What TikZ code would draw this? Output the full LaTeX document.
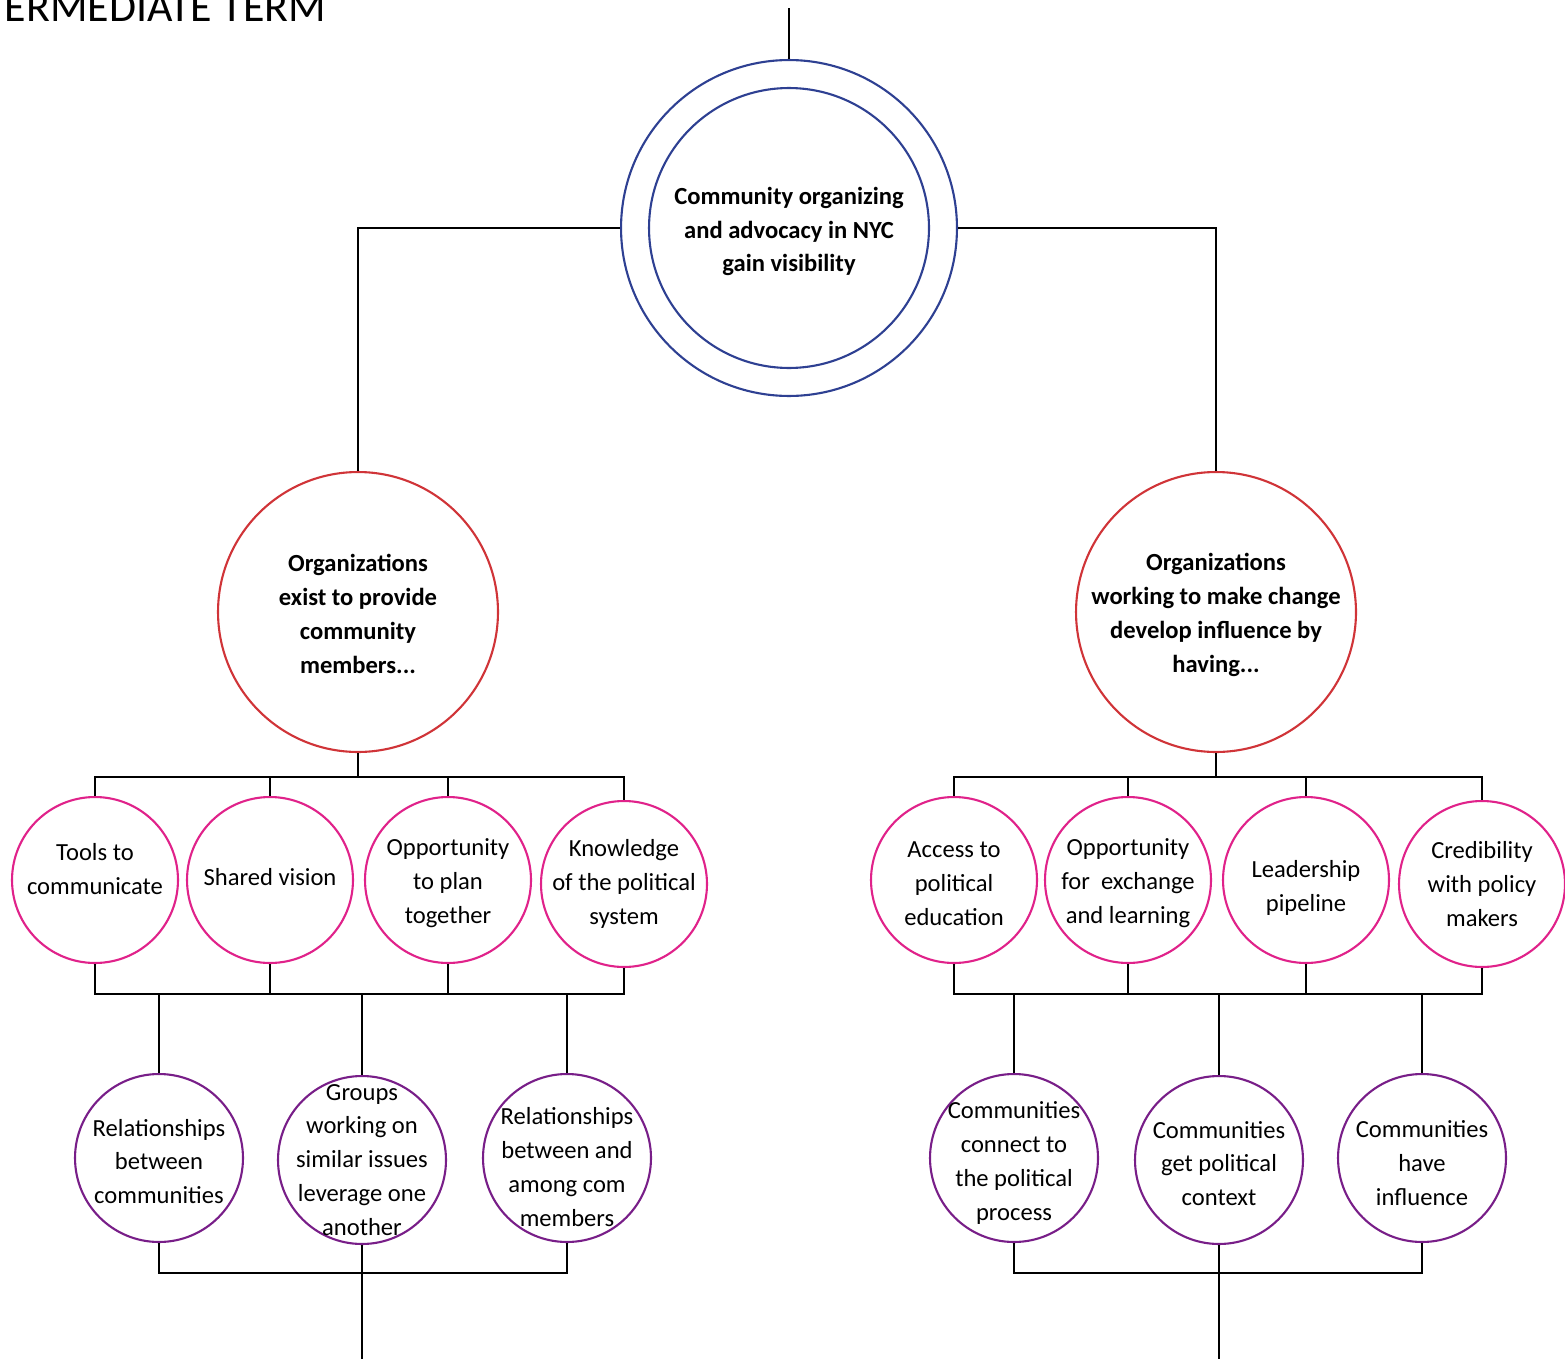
\documentclass[tikz,border=0pt]{standalone}
\usepackage{fontspec}
\setmainfont{Carlito}
\definecolor{topblue}{RGB}{46,64,146}
\definecolor{orgred}{RGB}{208,52,56}
\definecolor{needpink}{RGB}{224,34,138}
\definecolor{resultpurple}{RGB}{120,30,136}

\begin{document}
\begin{tikzpicture}[x=0.02cm,y=-0.02cm,line width=1.1pt,
    txt/.style={align=center,font=\fontsize{14}{19.3}\selectfont},
    boldtxt/.style={align=center,font=\fontsize{14}{19.3}\selectfont\bfseries}]

      \useasboundingbox (0,0) rectangle (1565,1359);

      \node[anchor=base west,font=\fontsize{25}{30}\selectfont] (title) at (-2,21) {ERMEDIATE TERM};

      \begin{scope}[every node/.style={circle,draw,inner sep=0pt,line width=1.2pt}]
        \node[draw=topblue,minimum size=6.72cm] (top)   at (789,228) {};
        \node[draw=topblue,minimum size=5.6cm]  (topin) at (789,228) {};
        \node[draw=orgred,minimum size=5.6cm]   (org1)  at (358,612) {};
        \node[draw=orgred,minimum size=5.6cm]   (org2)  at (1216,612) {};
      \end{scope}

      \begin{scope}[every node/.style={circle,draw=needpink,inner sep=0pt,line width=1.2pt,minimum size=3.32cm}]
        \node (t1) at (95,880)   {};
        \node (t2) at (270,880)  {};
        \node (t3) at (448,880)  {};
        \node (t4) at (624,884)  {};
        \node (a1) at (954,880)  {};
        \node (a2) at (1128,880) {};
        \node (a3) at (1306,880) {};
        \node (a4) at (1482,884) {};
      \end{scope}

      \begin{scope}[every node/.style={circle,draw=resultpurple,inner sep=0pt,line width=1.2pt,minimum size=3.36cm}]
        \node (r1) at (159,1158)  {};
        \node (r2) at (362,1160)  {};
        \node (r3) at (567,1158)  {};
        \node (c1) at (1014,1158) {};
        \node (c2) at (1219,1160) {};
        \node (c3) at (1422,1158) {};
      \end{scope}

      \begin{scope}[every node/.style={boldtxt}]
        \node[yshift=-2pt] at (top)  {Community organizing\\and advocacy in NYC\\gain visibility};
        \node[yshift=-1pt] at (org1) {Organizations\\exist to provide\\community\\members...};
        \node[yshift=-1.5pt] at (org2) {Organizations\\working to make change\\develop influence by\\having...};
      \end{scope}

      \begin{scope}[every node/.style={txt}]
        \node[yshift=6pt] at (t1) {Tools to\\communicate};
        \node[yshift=1.5pt] at (t2) {Shared vision};
        \node[yshift=-2pt] at (t3) {Opportunity\\to plan\\together};
        \node at (t4) {Knowledge\\of the political\\system};
        \node[yshift=-2pt] at (a1) {Access to\\political\\education};
        \node[yshift=-2pt] at (a2) {Opportunity\\for~~exchange\\and learning};
        \node[yshift=-4.5pt] at (a3) {Leadership\\pipeline};
        \node at (a4) {Credibility\\with policy\\makers};
        \node[yshift=-2pt] at (r1) {Relationships\\between\\communities};
        \node at (r2) {Groups\\working on\\similar issues\\leverage one\\another};
        \node[yshift=-5pt] at (r3) {Relationships\\between and\\among com\\members};
        \node[yshift=-3pt] at (c1) {Communities\\connect to\\the political\\process};
        \node[yshift=-2pt] at (c2) {Communities\\get political\\context};
        \node[yshift=-3pt] at (c3) {Communities\\have\\influence};
      \end{scope}

      \coordinate (start) at (789,8);
      \coordinate (lbusa) at (358,777);
      \coordinate (lbusb) at (360,994);
      \coordinate (lbusc) at (362,1273);
      \coordinate (lend)  at (362,1359);
      \coordinate (rbusa) at (1216,777);
      \coordinate (rbusb) at (1216,994);
      \coordinate (rbusc) at (1219,1273);
      \coordinate (rend)  at (1219,1359);

      \draw (start) -- (top.north);
      \draw (top.west) -| (org1.north);
      \draw (top.east) -| (org2.north);

      \draw (org1.south) -- (lbusa);
      \draw (t1.north) |- (lbusa) -| (t4.north);
      \draw (t2.north) -- (t2.north |- lbusa);
      \draw (t3.north) -- (t3.north |- lbusa);
      \draw (t1.south) |- (lbusb) -| (t4.south);
      \draw (t2.south) -- (t2.south |- lbusb);
      \draw (t3.south) -- (t3.south |- lbusb);
      \draw (r1.north) -- (r1.north |- lbusb);
      \draw (r2.north) -- (r2.north |- lbusb);
      \draw (r3.north) -- (r3.north |- lbusb);
      \draw (r1.south) |- (lbusc) -| (r3.south);
      \draw (r2.south) -- (lend);

      \draw (org2.south) -- (rbusa);
      \draw (a1.north) |- (rbusa) -| (a4.north);
      \draw (a2.north) -- (a2.north |- rbusa);
      \draw (a3.north) -- (a3.north |- rbusa);
      \draw (a1.south) |- (rbusb) -| (a4.south);
      \draw (a2.south) -- (a2.south |- rbusb);
      \draw (a3.south) -- (a3.south |- rbusb);
      \draw (c1.north) -- (c1.north |- rbusb);
      \draw (c2.north) -- (c2.north |- rbusb);
      \draw (c3.north) -- (c3.north |- rbusb);
      \draw (c1.south) |- (rbusc) -| (c3.south);
      \draw (c2.south) -- (rend);

    \end{tikzpicture}
\end{document}
